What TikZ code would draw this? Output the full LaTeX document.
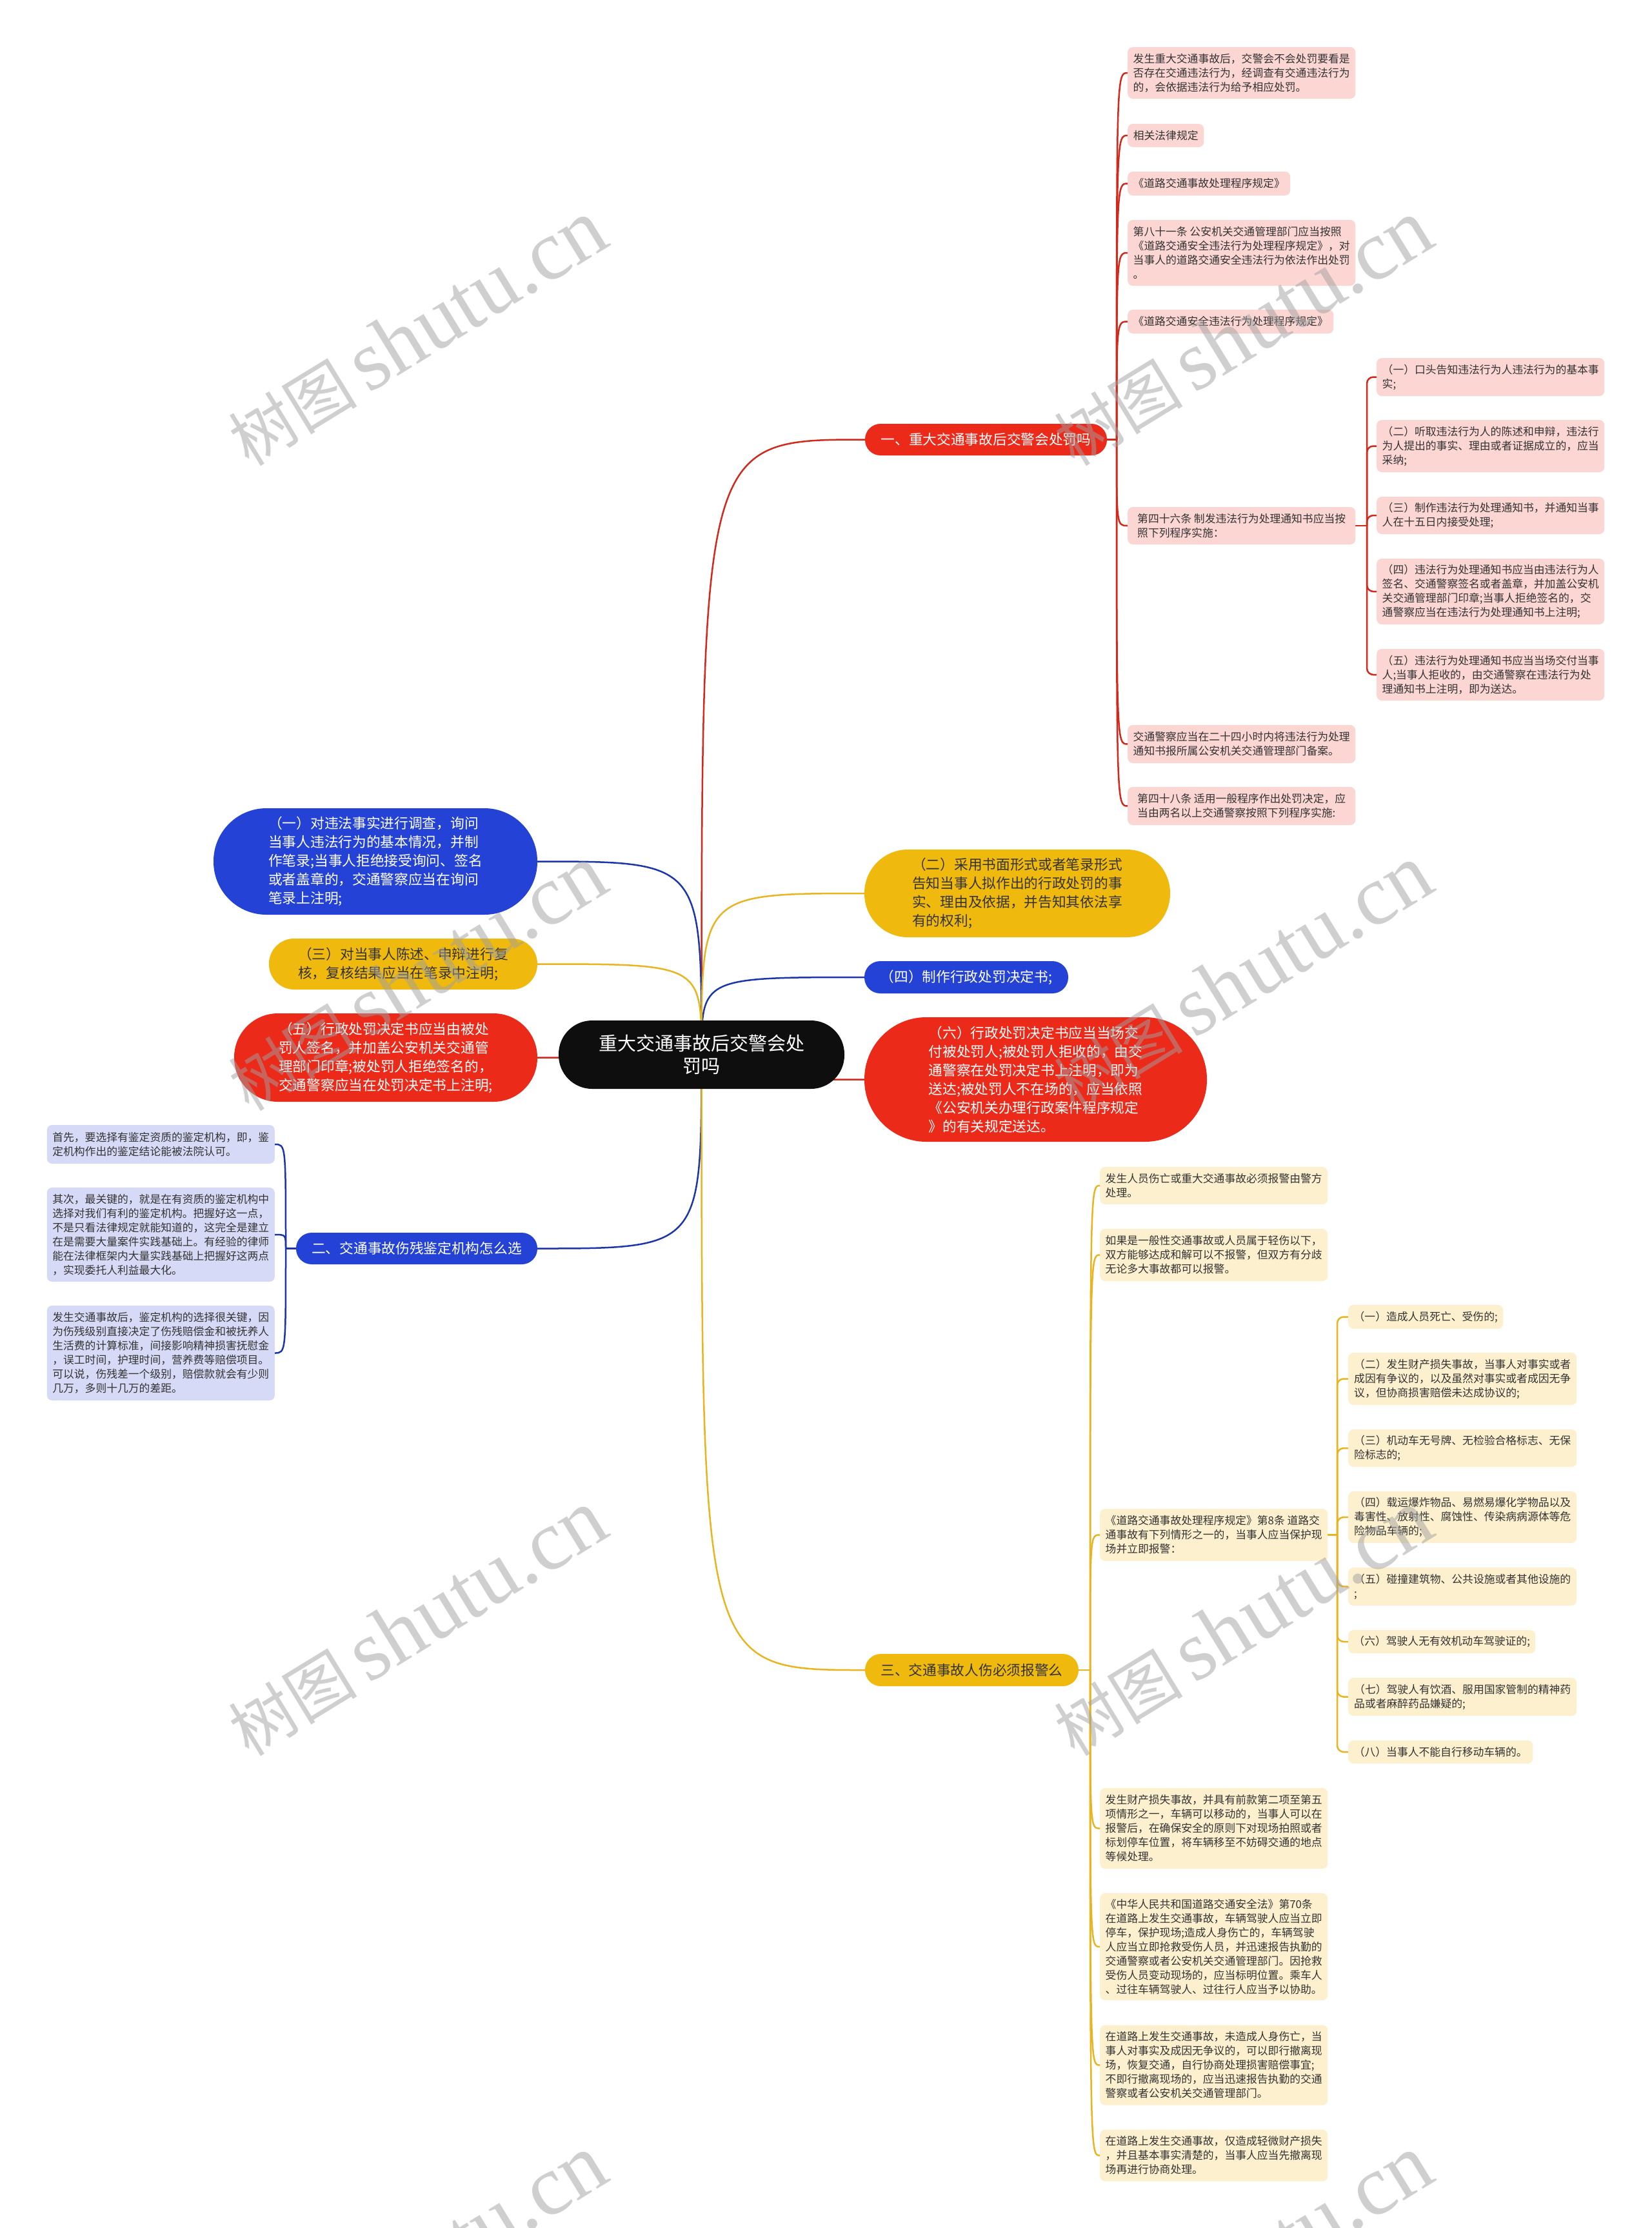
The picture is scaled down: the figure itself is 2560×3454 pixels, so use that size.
\documentclass[tikz,border=0pt]{standalone}
\usepackage{fontspec}
\setmainfont{Noto Sans CJK SC}
\newfontfamily\wmser{Liberation Serif}
\usetikzlibrary{backgrounds}
\definecolor{cRed}{HTML}{EC2A1A}
\definecolor{cBlue}{HTML}{2443D6}
\definecolor{cYel}{HTML}{F0B90E}
\definecolor{cBlack}{HTML}{0E0E0E}
\definecolor{lRed}{HTML}{D2291C}
\definecolor{lBlue}{HTML}{1C35A8}
\definecolor{lYel}{HTML}{E8B420}
\definecolor{fPink}{HTML}{FBD6D3}
\definecolor{fLav}{HTML}{D7DAF6}
\definecolor{fCream}{HTML}{FDF0CE}
\definecolor{txt}{HTML}{333333}
\definecolor{wmc}{HTML}{A0A0A0}
\tikzset{
  fan/.style={to path={.. controls (\tikztostart |- \tikztotarget) and (\tikztostart |- \tikztotarget) .. (\tikztotarget)}},
  dim/.style 2 args={minimum width=#1pt,minimum height=#2pt},
  leaf/.style={anchor=west, inner sep=0pt, align=left, rounded corners=8pt, font=\fontsize{16.8}{22}\selectfont, text=txt},
  pk/.style={leaf, fill=fPink},
  lv/.style={leaf, fill=fLav, anchor=east},
  cr/.style={leaf, fill=fCream},
  pill/.style={inner sep=0pt, align=left, font=\fontsize{21.7}{29}\selectfont},
  pR/.style={pill, fill=cRed, text=white},
  pB/.style={pill, fill=cBlue, text=white},
  pY/.style={pill, fill=cYel, text=txt},
  lnR/.style={draw=lRed, line width=2.5pt},
  lnB/.style={draw=lBlue, line width=2.5pt},
  lnY/.style={draw=lYel, line width=2.5pt},
  wm/.style={rotate=31.5, text=wmc, opacity=0.5, inner sep=0pt}
}
\begin{document}
\begin{tikzpicture}[x=1pt,y=-1pt]
\useasboundingbox (0,0) rectangle (2560,3454);
\begin{scope}[on background layer]
\fill[white] (0,0) rectangle (2560,3454);
\end{scope}

% ---------- root and main branches ----------
\node[inner sep=0pt, align=center, fill=cBlack, text=white, rounded corners=52pt, dim={443}{106}, font=\fontsize{29}{35}\selectfont] (root) at (1087.5,1635) {重大交通事故后交警会处\\罚吗};

\node[pR, dim={375}{49}, rounded corners=24pt] (b1) at (1528.5,681.5) {一、重大交通事故后交警会处罚吗};
\node[pB, dim={374}{49}, rounded corners=24pt] (b2) at (646,1935.5) {二、交通事故伤残鉴定机构怎么选};
\node[pY, dim={331}{50}, rounded corners=24.5pt] (b3) at (1506.5,2589) {三、交通事故人伤必须报警么};

\node[pB, dim={502}{165}, rounded corners=82pt] (n1) at (582,1335.5) {（一）对违法事实进行调查，询问\\当事人违法行为的基本情况，并制\\作笔录;当事人拒绝接受询问、签名\\或者盖章的，交通警察应当在询问\\笔录上注明;};
\node[pY, dim={416}{79}, rounded corners=39pt] (n3) at (625,1494.5) {（三）对当事人陈述、申辩进行复\\核，复核结果应当在笔录中注明;};
\node[pR, dim={470}{137}, rounded corners=68pt] (n5) at (598,1639.5) {（五）行政处罚决定书应当由被处\\罚人签名，并加盖公安机关交通管\\理部门印章;被处罚人拒绝签名的，\\交通警察应当在处罚决定书上注明;};
\node[pY, dim={474}{136}, rounded corners=67.5pt] (n2) at (1577,1385) {（二）采用书面形式或者笔录形式\\告知当事人拟作出的行政处罚的事\\实、理由及依据，并告知其依法享\\有的权利;};
\node[pB, dim={316}{50}, rounded corners=24.5pt] (n4) at (1498,1515) {（四）制作行政处罚决定书;};
\node[pR, dim={531}{193}, rounded corners=96pt] (n6) at (1605.5,1673.5) {（六）行政处罚决定书应当当场交\\付被处罚人;被处罚人拒收的，由交\\通警察在处罚决定书上注明，即为\\送达;被处罚人不在场的，应当依照\\《公安机关办理行政案件程序规定\\》的有关规定送达。};

% ---------- branch 1 leaves ----------
\node[pk, dim={353}{80}] (a1) at (1748,113) {发生重大交通事故后，交警会不会处罚要看是\\否存在交通违法行为，经调查有交通违法行为\\的，会依据违法行为给予相应处罚。};
\node[pk, dim={118}{36}] (a2) at (1748,210) {相关法律规定};
\node[pk, dim={252}{37}] (a3) at (1748,284.5) {《道路交通事故处理程序规定》};
\node[pk, dim={353}{102}] (a4) at (1748,392) {第八十一条 公安机关交通管理部门应当按照\\《道路交通安全违法行为处理程序规定》，对\\当事人的道路交通安全违法行为依法作出处罚\\。};
\node[pk, dim={319}{37}] (a5) at (1748,498.5) {《道路交通安全违法行为处理程序规定》};
\node[pk, dim={353}{58}] (a6) at (1748,815) {第四十六条 制发违法行为处理通知书应当按\\照下列程序实施：};
\node[pk, dim={353}{59}] (a7) at (1748,1153.5) {交通警察应当在二十四小时内将违法行为处理\\通知书报所属公安机关交通管理部门备案。};
\node[pk, dim={353}{59}] (a8) at (1748,1249.5) {第四十八条 适用一般程序作出处罚决定，应\\当由两名以上交通警察按照下列程序实施:};

\node[pk, dim={353}{59}] (c1) at (2134,584.5) {（一）口头告知违法行为人违法行为的基本事\\实;};
\node[pk, dim={353}{81}] (c2) at (2134,691.5) {（二）听取违法行为人的陈述和申辩，违法行\\为人提出的事实、理由或者证据成立的，应当\\采纳;};
\node[pk, dim={353}{58}] (c3) at (2134,799) {（三）制作违法行为处理通知书，并通知当事\\人在十五日内接受处理;};
\node[pk, dim={353}{102}] (c4) at (2134,917) {（四）违法行为处理通知书应当由违法行为人\\签名、交通警察签名或者盖章，并加盖公安机\\关交通管理部门印章;当事人拒绝签名的，交\\通警察应当在违法行为处理通知书上注明;};
\node[pk, dim={353}{80}] (c5) at (2134,1046) {（五）违法行为处理通知书应当当场交付当事\\人;当事人拒收的，由交通警察在违法行为处\\理通知书上注明，即为送达。};

% ---------- branch 2 leaves ----------
\node[lv, dim={353}{60}] (v1) at (426,1774) {首先，要选择有鉴定资质的鉴定机构，即，鉴\\定机构作出的鉴定结论能被法院认可。};
\node[lv, dim={353}{146}] (v2) at (426,1914) {其次，最关键的，就是在有资质的鉴定机构中\\选择对我们有利的鉴定机构。把握好这一点，\\不是只看法律规定就能知道的，这完全是建立\\在是需要大量案件实践基础上。有经验的律师\\能在法律框架内大量实践基础上把握好这两点\\，实现委托人利益最大化。};
\node[lv, dim={353}{147}] (v3) at (426,2097.5) {发生交通事故后，鉴定机构的选择很关键，因\\为伤残级别直接决定了伤残赔偿金和被抚养人\\生活费的计算标准，间接影响精神损害抚慰金\\，误工时间，护理时间，营养费等赔偿项目。\\可以说，伤残差一个级别，赔偿款就会有少则\\几万，多则十几万的差距。};

% ---------- branch 3 leaves ----------
\node[cr, dim={353}{58}] (y1) at (1705,1838) {发生人员伤亡或重大交通事故必须报警由警方\\处理。};
\node[cr, dim={353}{81}] (y2) at (1705,1945.5) {如果是一般性交通事故或人员属于轻伤以下，\\双方能够达成和解可以不报警，但双方有分歧\\无论多大事故都可以报警。};
\node[cr, dim={353}{81}] (y3) at (1705,2379.5) {《道路交通事故处理程序规定》第8条 道路交\\通事故有下列情形之一的，当事人应当保护现\\场并立即报警：};
\node[cr, dim={353}{125}] (y4) at (1705,2834.5) {发生财产损失事故，并具有前款第二项至第五\\项情形之一，车辆可以移动的，当事人可以在\\报警后，在确保安全的原则下对现场拍照或者\\标划停车位置，将车辆移至不妨碍交通的地点\\等候处理。};
\node[cr, dim={353}{166}] (y5) at (1705,3018) {《中华人民共和国道路交通安全法》第70条\\在道路上发生交通事故，车辆驾驶人应当立即\\停车，保护现场;造成人身伤亡的，车辆驾驶\\人应当立即抢救受伤人员，并迅速报告执勤的\\交通警察或者公安机关交通管理部门。因抢救\\受伤人员变动现场的，应当标明位置。乘车人\\、过往车辆驾驶人、过往行人应当予以协助。};
\node[cr, dim={353}{124}] (y6) at (1705,3201.5) {在道路上发生交通事故，未造成人身伤亡，当\\事人对事实及成因无争议的，可以即行撤离现\\场，恢复交通，自行协商处理损害赔偿事宜;\\不即行撤离现场的，应当迅速报告执勤的交通\\警察或者公安机关交通管理部门。};
\node[cr, dim={353}{80}] (y7) at (1705,3341.5) {在道路上发生交通事故，仅造成轻微财产损失\\，并且基本事实清楚的，当事人应当先撤离现\\场再进行协商处理。};

\node[cr, dim={240}{37}] (d1) at (2090,2041.5) {（一）造成人员死亡、受伤的;};
\node[cr, dim={354}{81}] (d2) at (2090,2137.5) {（二）发生财产损失事故，当事人对事实或者\\成因有争议的，以及虽然对事实或者成因无争\\议，但协商损害赔偿未达成协议的;};
\node[cr, dim={354}{58}] (d3) at (2090,2245) {（三）机动车无号牌、无检验合格标志、无保\\险标志的;};
\node[cr, dim={354}{80}] (d4) at (2090,2352) {（四）载运爆炸物品、易燃易爆化学物品以及\\毒害性、放射性、腐蚀性、传染病病源体等危\\险物品车辆的;};
\node[cr, dim={354}{59}] (d5) at (2090,2459.5) {（五）碰撞建筑物、公共设施或者其他设施的\\;};
\node[cr, dim={290}{36}] (d6) at (2090,2545) {（六）驾驶人无有效机动车驾驶证的;};
\node[cr, dim={354}{59}] (d7) at (2090,2630.5) {（七）驾驶人有饮酒、服用国家管制的精神药\\品或者麻醉药品嫌疑的;};
\node[cr, dim={286}{36}] (d8) at (2090,2716) {（八）当事人不能自行移动车辆的。};

% ---------- junction points ----------
\coordinate (S1) at (1731,681.5);
\coordinate (J1) at (2119,815);
\coordinate (S2) at (443,1935.5);
\coordinate (S3) at (1690,2589);
\coordinate (J3) at (2073,2379.5);

% ---------- connectors ----------
\begin{scope}[on background layer]
\draw[lnR] (root.center) to[fan] (b1.west);
\draw[lnR] (root.center) to[fan] (n5.east);
\draw[lnR] (root.center) to[fan] (n6.west);
\draw[lnB] (root.center) to[fan] (n1.east);
\draw[lnB] (root.center) to[fan] (n4.west);
\draw[lnB] (root.center) to[fan] (b2.east);
\draw[lnY] (root.center) to[fan] (n3.east);
\draw[lnY] (root.center) to[fan] (n2.west);
\draw[lnY] (root.center) to[fan] (b3.west);

\draw[lnR] (b1.east) -- (S1);
\foreach \n in {a1,a2,a3,a4,a5,a6,a7,a8}
  \draw[lnR] (S1) to[fan] (\n.west);
\draw[lnR] (a6.east) -- (J1);
\foreach \n in {c1,c2,c3,c4,c5}
  \draw[lnR, rounded corners=10pt] (J1) |- (\n.west);

\draw[lnB] (b2.west) -- (S2);
\foreach \n in {v1,v2,v3}
  \draw[lnB] (S2) to[fan] (\n.east);

\draw[lnY] (b3.east) -- (S3);
\foreach \n in {y1,y2,y3,y4,y5,y6,y7}
  \draw[lnY] (S3) to[fan] (\n.west);
\draw[lnY] (y3.east) -- (J3);
\foreach \n in {d1,d2,d3,d4,d5,d6,d7,d8}
  \draw[lnY, rounded corners=10pt] (J3) |- (\n.west);
\end{scope}

% ---------- watermarks ----------
\begin{scope}
\clip (0,0) rectangle (2560,3454);
\foreach \wx/\wy [count=\i] in {646/516,1926/516,646/1516,1926/1516,646/2516,1926/2516,646/3516,1926/3516}
  \node[wm] (wm\i) at (\wx,\wy) {\fontsize{100}{110}\selectfont 树图\,{\wmser\fontsize{132}{140}\selectfont shutu.cn}};
\end{scope}
\end{tikzpicture}
\end{document}
